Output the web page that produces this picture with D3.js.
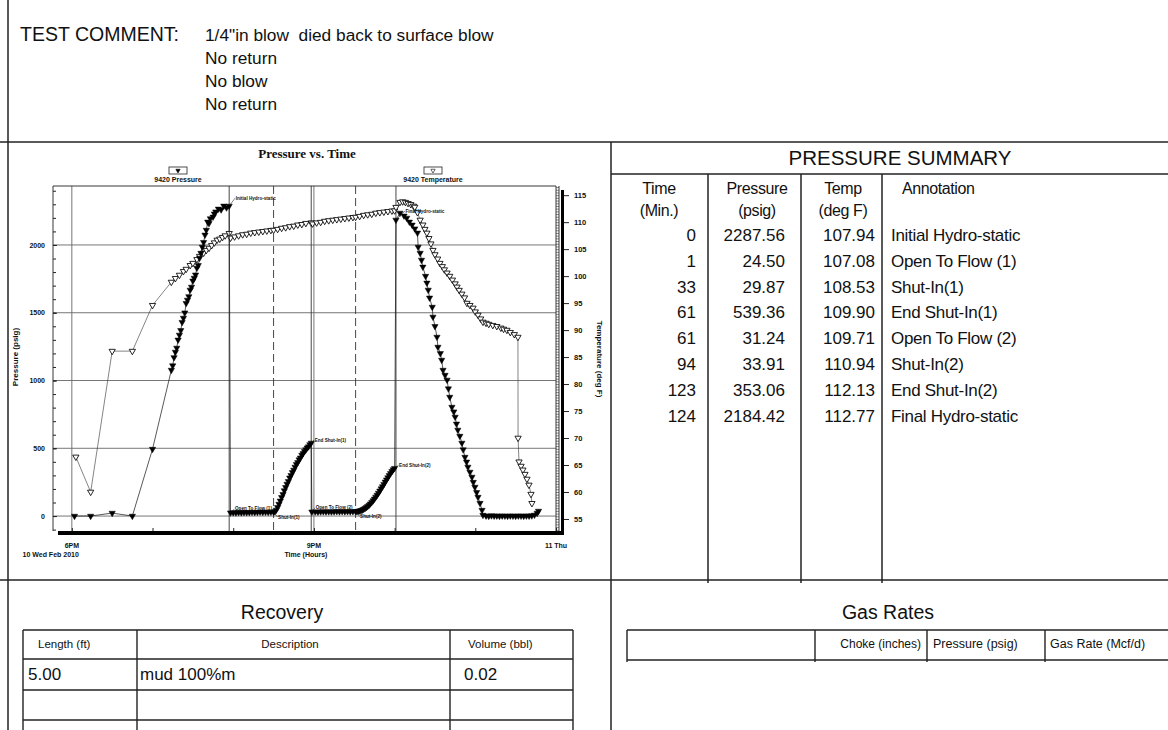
<!DOCTYPE html>
<html><head><meta charset="utf-8">
<script src="https://cdn.jsdelivr.net/npm/d3@7"></script>
<style>
body{margin:0;background:#fff;}
svg{display:block;font-family:"Liberation Sans",Arial,sans-serif;}
text{white-space:pre;}
</style></head><body>
<svg id="c" width="1168" height="730"></svg>
<script>
// ---------------- DATA ----------------
const commentLabel = "TEST COMMENT:";
const commentLines = ["1/4\"in blow  died back to surface blow", "No return", "No blow", "No return"];

const chartTitle = "Pressure vs. Time";
const pressureName = "9420 Pressure";
const temperatureName = "9420 Temperature";
const pressureAxisTitle = "Pressure (psig)";
const temperatureAxisTitle = "Temperature (deg F)";

// time in minutes after 6PM, 10 Wed Feb 2010
const timeTicks = [0, 180, 360];
const timeTickLabels = ["6PM", "9PM", "11 Thu"];
const timeSubLabels = ["10 Wed Feb 2010", "Time (Hours)", ""];
const hourTicks = [0, 60, 120, 180, 240, 300, 360];
const pressureTicks = [0, 500, 1000, 1500, 2000];
const temperatureTicks = [55, 60, 65, 70, 75, 80, 85, 90, 95, 100, 105, 110, 115];

const testStartMinute = 117; // initial hydro-static, minutes after 6PM

// [minutes after 6PM, psig]
const pressureSeries = [
  [2,0],[14,0],[30,22],[45,0],[60,494],
  [74,1077],[75,1110],[76,1170],[77,1210],[78,1240],[79,1300],[80,1336],[81,1370],[82,1430],[83,1461],
  [84,1500],[85,1570],[86,1594],[87,1620],[88,1668],[89,1690],[90,1735],[91,1756],[92,1780],[93,1830],
  [94,1850],[95,1904],[96,1940],[97,1985],[98,2020],[99,2074],[100,2110],[101,2170],[102,2160],[103,2195],
  [105,2207],[106,2230],[107,2245],[109,2266],[111,2260],[113,2288],[115,2275],[117,2287.56],
  [118,24.5],[120,26],[122,25],[124,27],[126,26],[128,28],[130,27],[132,28],[134,29],[136,28],[138,29],
  [140,30],[142,29],[144,30],[146,29],[148,30],[150,29.87],
  [151,34],[152,45],[153,64],[154,88],[155,112],[156,138],[157,160],[158,188],[159,212],[160,236],
  [161,256],[162,282],[163,300],[164,322],[165,340],[166,362],[167,382],[168,396],[169,416],[170,430],
  [171,450],[172,462],[173,478],[174,490],[175,504],[176,512],[177,528],[178,539.36],
  [178.5,31.24],[181,32],[183,31],[185,32],[187,33],[189,32],[191,33],[193,32],[195,33],[197,34],
  [199,33],[201,34],[203,33],[205,34],[207,33],[209,34],[211,33.91],
  [212,35],[213,37],[214,39],[215,42],[216,46],[217,51],[218,57],[219,64],[220,72],[221,81],[222,91],
  [223,102],[224,114],[225,127],[226,141],[227,155],[228,170],[229,186],[230,202],[231,218],[232,235],
  [233,252],[234,268],[235,284],[236,300],[237,315],[238,330],[239,343],[240,353.06],
  [241,2184.42],[244,2236],[247,2215],[249,2199],[251,2170],[253,2148],[255,2120],[257,2089],
  [257.5,1985],[259,1940],[260,1889],[261,1838],[263,1770],[264,1720],[265,1668],[266,1610],
  [268,1542],[268.5,1469],[270,1400],[271.5,1321],[272.2,1247],[274,1200],[275,1151],[276,1077],
  [277.5,1040],[279,1004],[280,940],[281,878],[282.6,804],[284,770],[285,731],[286,680],[287,635],
  [288.5,590],[290,539],[291,490],[292.3,435],[293.5,400],[294.5,362],[296,325],[297.5,288],
  [298.5,250],[299.7,214],[301,175],[302,140],[303.5,95],[305,44],[305.7,7],
  [308,2],[310,0],[312,3],[314,1],[316,2],[318,0],[320,2],[322,1],[324,0],[326,2],[328,1],[330,0],
  [332,2],[334,1],[336,0],[338,2],[340,1],[342,3],[344,8],[346,22],[347,37]
];

// [minutes after 6PM, deg F]
const temperatureSeries = [
  [3,66.5],[14,60.0],[30,86.1],[45,86.1],[60,94.6],[74,98.9],[77,99.6],[80,100.2],[83,100.9],[85,101.3],
  [88,102.0],[90,102.4],[93,103.1],[95,103.7],[98,104.3],[100,104.8],[102,105.2],[104,105.7],[106,106.2],
  [108,106.7],[110,106.9],[112,107.2],[114,107.5],[117,107.94],[118,107.08],[121,107.3],[124,107.5],
  [127,107.7],[130,107.8],[133,108.0],[136,108.1],[139,108.2],[142,108.3],[145,108.4],[148,108.5],
  [150,108.53],[153,108.7],[156,108.9],[159,109.0],[162,109.2],[165,109.3],[168,109.5],[171,109.6],
  [174,109.8],[178,109.90],[179,109.71],[182,109.9],[185,110.0],[188,110.2],[191,110.3],[194,110.4],
  [197,110.5],[200,110.6],[203,110.7],[206,110.8],[209,110.9],[211,110.94],[214,111.1],[217,111.3],
  [220,111.4],[223,111.5],[226,111.7],[229,111.8],[232,111.9],[235,112.0],[238,112.1],[240,112.13],
  [241,112.77],[244,113.7],[246,113.8],[248,113.7],[250,113.5],[252,113.3],[254,113.0],[255,112.8],
  [257,111.8],[259,110.4],[261,109.5],[262.5,108.7],[264,108.0],[265.5,107.0],[267,106.0],[268.5,104.8],
  [270,104.0],[272,103.2],[273.7,102.4],[275.5,101.8],[277,101.2],[279,100.6],[281,100.0],[283,99.3],
  [285,98.6],[286.4,98.0],[288,97.4],[290,96.7],[292,96.0],[293.8,95.0],[296,94.6],[298.3,94.1],
  [300,93.4],[302,92.8],[304,92.1],[305.7,91.5],[308,91.3],[310,91.1],[313,90.9],[316,90.7],[319,90.4],
  [321,90.2],[323.5,90.0],[326,89.6],[329,89.2],[331.7,88.7],[331.8,70.0],[332.5,65.6],[334,64.8],
  [335.4,64.1],[336.9,63.3],[338.4,62.4],[339.9,61.3],[341.4,59.6],[342.1,57.9]
];

// Pressure summary
const summaryTitle = "PRESSURE SUMMARY";
const summaryHeaders = [["Time","(Min.)"],["Pressure","(psig)"],["Temp","(deg F)"],["Annotation",""]];
const summaryTime = [0, 1, 33, 61, 61, 94, 123, 124];
const summaryPressure = ["2287.56","24.50","29.87","539.36","31.24","33.91","353.06","2184.42"];
const summaryTemp = ["107.94","107.08","108.53","109.90","109.71","110.94","112.13","112.77"];
const summaryAnnotation = ["Initial Hydro-static","Open To Flow (1)","Shut-In(1)","End Shut-In(1)","Open To Flow (2)","Shut-In(2)","End Shut-In(2)","Final Hydro-static"];

// Recovery
const recoveryTitle = "Recovery";
const recoveryHeaders = ["Length (ft)", "Description", "Volume (bbl)"];
const recoveryRows = [["5.00", "mud 100%m", "0.02"]];

// Gas rates
const gasTitle = "Gas Rates";
const gasHeaders = ["", "Choke (inches)", "Pressure (psig)", "Gas Rate (Mcf/d)"];

// ---------------- DRAW ----------------
const svg = d3.select("#c");
svg.append("rect").attr("width",1168).attr("height",730).attr("fill","#fff");

function ln(g,x1,y1,x2,y2,w,col,dash){
  const l = g.append("line").attr("x1",x1).attr("y1",y1).attr("x2",x2).attr("y2",y2)
    .attr("stroke",col||"#222").attr("stroke-width",w||1.4);
  if(dash) l.attr("stroke-dasharray",dash);
  return l;
}
function tx(g,x,y,t,size,anchor,extra){
  const e = g.append("text").attr("x",x).attr("y",y).attr("font-size",size+"px")
    .attr("text-anchor",anchor||"start").attr("fill","#111").text(t);
  if(extra) extra(e);
  return e;
}

// page frame
ln(svg,8,0,8,730,1.5);
ln(svg,0,142,1168,142,1.5);
ln(svg,611,142,611,730,1.5);
ln(svg,0,580,1168,580,1.5);

// comment
tx(svg,20,41,commentLabel,19.5);
commentLines.forEach((t,i)=>tx(svg,205,41+23*i,t,17.3));

// ---------- chart ----------
const ch = svg.append("g");
const x = d3.scaleLinear().domain([-14,360]).range([53,556]);
const yP = d3.scaleLinear().domain([-125,2435]).range([533,186]);
const yT = d3.scaleLinear().domain([52.4,116.7]).range([533,186]);

// grid
pressureTicks.forEach(v=>ln(ch,53,yP(v),556,yP(v),0.9,"#666"));
timeTicks.slice(0,2).forEach(v=>ln(ch,x(v),186,x(v),531,0.9,"#666"));

// event lines
const eventIdx = [0,2,3,5,7];
const dashedIdx = [2,5];
eventIdx.forEach(i=>{
  const xx = x(testStartMinute + summaryTime[i]);
  ln(ch,xx,186,xx,531,0.9,"#333",dashedIdx.includes(i)?"8,4":null);
});

// frame
ln(ch,53,186,556,186,0.9,"#222");
ln(ch,53,186,53,531,0.9,"#222");
ln(ch,556,186,556,531,0.9,"#222");
ln(ch,559,186,559,531,0.9,"#222");

// left axis
const fontAx = el=>el.attr("font-size","7px").attr("font-weight","bold").attr("fill","#111");
const gL = ch.append("g").attr("transform","translate(53,0)")
  .call(d3.axisLeft(yP).tickValues(pressureTicks).tickFormat(d3.format("d")).tickSizeInner(-4).tickSizeOuter(0).tickPadding(8));
gL.select(".domain").remove();
gL.selectAll("text").call(fontAx).attr("font-family","Liberation Sans");
const gLm = ch.append("g").attr("transform","translate(53,0)")
  .call(d3.axisLeft(yP).tickValues(d3.range(-100,2401,100)).tickSizeInner(-3).tickSizeOuter(0).tickFormat(""));
gLm.select(".domain").remove();
ch.selectAll(".tick line").attr("stroke","#222");

// temperature ladder + axis
const gLad = ch.append("g").attr("transform","translate(559,0)")
  .call(d3.axisLeft(yT).tickValues(d3.range(53,116.6,0.5)).tickSizeInner(3).tickSizeOuter(0).tickFormat(""));
gLad.select(".domain").remove();
gLad.selectAll("line").attr("stroke","#333").attr("stroke-width",0.6);
ch.append("rect").attr("x",561).attr("y",190).attr("width",3).attr("height",345).attr("fill","#000");
const gR = ch.append("g").attr("transform","translate(564,0)")
  .call(d3.axisRight(yT).tickValues(temperatureTicks).tickFormat(d3.format("d")).tickSizeInner(5).tickSizeOuter(0).tickPadding(5));
gR.select(".domain").remove();
gR.selectAll("line").attr("stroke","#222");
gR.selectAll("text").call(fontAx).attr("font-size","7.5px").attr("font-family","Liberation Sans");

// bottom bar + hour ticks
ch.append("rect").attr("x",58).attr("y",531).attr("width",506).attr("height",4).attr("fill","#000");
const gB = ch.append("g").attr("transform","translate(0,531)")
  .call(d3.axisTop(x).tickValues(hourTicks).tickSizeInner(3).tickSizeOuter(0).tickFormat(""));
gB.select(".domain").remove();
gB.selectAll("line").attr("stroke","#222");

timeTicks.forEach((v,i)=>{
  tx(ch,x(v),548,timeTickLabels[i],7,"middle",e=>e.attr("font-weight","bold"));
});
tx(ch,x(timeTicks[0])+7,557,timeSubLabels[0],7,"end",e=>e.attr("font-weight","bold"));
tx(ch,x(timeTicks[1])-8,557,timeSubLabels[1],7,"middle",e=>e.attr("font-weight","bold"));

// axis titles
tx(ch,0,0,pressureAxisTitle,8,"middle",e=>e.attr("font-weight","bold").attr("transform","translate(18,357) rotate(-90)"));
tx(ch,0,0,temperatureAxisTitle,8,"middle",e=>e.attr("font-weight","bold").attr("transform","translate(597,359) rotate(90)"));

// title
tx(ch,307,158,chartTitle,13,"middle",e=>e.attr("font-family","Liberation Serif").attr("font-weight","bold"));

// legend
const triUp = d3.symbol().type(d3.symbolTriangle).size(17);
function legend(cx, name, filled){
  ch.append("rect").attr("x",cx-9).attr("y",167).attr("width",18).attr("height",7)
    .attr("fill","#fff").attr("stroke","#222").attr("stroke-width",0.8);
  ch.append("path").attr("d",d3.symbol().type(d3.symbolTriangle).size(8)())
    .attr("transform",`translate(${cx},170.5) rotate(180)`)
    .attr("fill",filled?"#000":"#fff").attr("stroke","#000").attr("stroke-width",0.6);
  tx(ch,cx,182,name,7,"middle",e=>e.attr("font-weight","bold"));
}
legend(178, pressureName, true);
legend(433, temperatureName, false);

// series
const lineP = d3.line().x(d=>x(d[0])).y(d=>yP(d[1]));
const lineT = d3.line().x(d=>x(d[0])).y(d=>yT(d[1]));

ch.append("path").datum(temperatureSeries).attr("d",lineT)
  .attr("fill","none").attr("stroke","#333").attr("stroke-width",0.6);
ch.append("g").selectAll("path").data(temperatureSeries).join("path")
  .attr("d",triUp())
  .attr("transform",d=>`translate(${x(d[0])},${yT(d[1])}) rotate(180)`)
  .attr("fill","#fff").attr("stroke","#000").attr("stroke-width",0.85);

ch.append("path").datum(pressureSeries).attr("d",lineP)
  .attr("fill","none").attr("stroke","#111").attr("stroke-width",0.7);
ch.append("g").selectAll("path").data(pressureSeries).join("path")
  .attr("d",triUp())
  .attr("transform",d=>`translate(${x(d[0])},${yP(d[1])}) rotate(180)`)
  .attr("fill","#000").attr("stroke","#000").attr("stroke-width",0.5);

// annotation labels on chart
const labelOffsets = [[6,-8],[4,-4],[4,5],[3,-3],[4,-4],[4,5],[4,-3],[9,-9]];
summaryAnnotation.forEach((a,i)=>{
  const px = x(testStartMinute + summaryTime[i]);
  const py = yP(+summaryPressure[i]);
  const lx = px + labelOffsets[i][0], ly = py + labelOffsets[i][1];
  ln(ch,px,py,lx,ly,0.5,"#111");
  tx(ch,lx+0.5,ly+1.6,a,4.6,"start",e=>e.attr("font-weight","bold"));
});

// ---------- pressure summary ----------
const ps = svg.append("g");
tx(ps,900,165,summaryTitle,20.5,"middle");
ln(ps,611,174,1168,174,1.5);
[708,801,882].forEach(cx=>ln(ps,cx,174,cx,583,1.5));
const hdrX = [[659,"middle"],[757,"middle"],[843,"middle"],[902,"start"]];
summaryHeaders.forEach((h,i)=>{
  tx(ps,hdrX[i][0],194,h[0],16,hdrX[i][1],e=>e.attr("letter-spacing","-0.4"));
  if(h[1]) tx(ps,hdrX[i][0],216,h[1],16,hdrX[i][1],e=>e.attr("letter-spacing","-0.4"));
});
summaryTime.forEach((t,i)=>{
  const by = 241 + 25.8*i;
  tx(ps,696,by,String(t),17,"end");
  tx(ps,785,by,summaryPressure[i],17,"end");
  tx(ps,875,by,summaryTemp[i],17,"end");
  tx(ps,891,by,summaryAnnotation[i],17,"start",e=>e.attr("letter-spacing","-0.3"));
});

// ---------- recovery ----------
const rc = svg.append("g");
tx(rc,282,619,recoveryTitle,19.5,"middle");
[630,659,690,720].forEach(yy=>ln(rc,23,yy,573,yy,1.4));
[23,137,450,573].forEach(xx=>ln(rc,xx,630,xx,730,1.4));
tx(rc,38,648,recoveryHeaders[0],11.5);
tx(rc,290,648,recoveryHeaders[1],11.5,"middle");
tx(rc,468,648,recoveryHeaders[2],11.5);
recoveryRows.forEach((r,i)=>{
  const by = 680 + 30*i;
  tx(rc,28,by,r[0],17);
  tx(rc,140,by,r[1],17);
  tx(rc,464,by,r[2],17);
});

// ---------- gas rates ----------
const gr = svg.append("g");
tx(gr,888,619,gasTitle,19.5,"middle");
[630,660].forEach(yy=>ln(gr,627,yy,1168,yy,1.4));
[627,815,927,1045].forEach(xx=>ln(gr,xx,630,xx,662,1.4));
tx(gr,921,648,gasHeaders[1],12,"end");
tx(gr,933,648,gasHeaders[2],12.5);
tx(gr,1050,648,gasHeaders[3],12.5);
</script>
</body></html>
